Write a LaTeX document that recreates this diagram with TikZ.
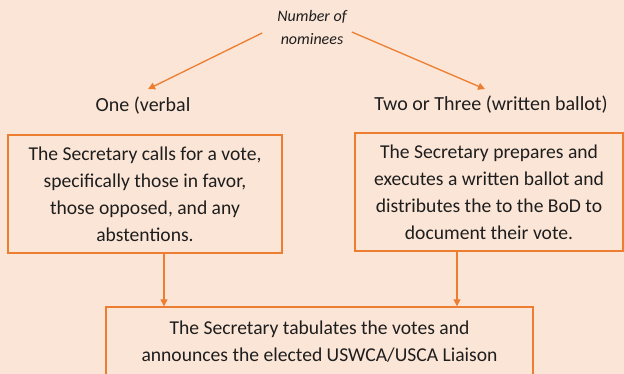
\documentclass[tikz,border=0pt]{standalone}
\usepackage{fontspec}
\setmainfont{Carlito}
\usepackage{xcolor}
\usepackage{tikz}
\usetikzlibrary{arrows.meta, positioning, calc}
\definecolor{pagebg}{RGB}{251, 229, 214}
\definecolor{accent}{RGB}{237, 125, 49}
\definecolor{inktext}{RGB}{30, 30, 30}
\tikzset{
  font=\fontsize{19.6}{27}\selectfont,
  stepblock/.style={
    rectangle, draw=accent, line width=1.4pt,
    align=center, text=inktext, inner sep=0pt
  },
  choicelabel/.style={text=inktext, inner sep=0pt, font=\fontsize{20}{27}\selectfont},
  flowline/.style={
    draw=accent, -{Triangle[length=7pt, width=7pt]}, line width=1.3pt
  }
}

\begin{document}
\begin{tikzpicture}[x=1pt, y=1pt]
  \fill[pagebg] (0,0) rectangle (624,374);
  \clip (0,0) rectangle (624,374);

  % Question
  \node[choicelabel, align=center, font=\itshape\fontsize{16}{23}\selectfont] (count) at (312,346) {Number of\\nominees};

  % Answers
  \node[choicelabel] (one) at (143,268) {One (verbal};
  \node[choicelabel] (several) at (491,269) {Two or Three (written ballot)};

  % Verbal vote
  \node[stepblock, minimum width=274pt, minimum height=118pt] (verbal) at (145,180) {
    The Secretary calls for a vote,\\
    specifically those in favor,\\
    those opposed, and any\\
    abstentions.
  };

  % Written ballot
  \node[stepblock, minimum width=268pt, minimum height=118pt] (ballot) at (489,182) {
    The Secretary prepares and\\
    executes a written ballot and\\
    distributes the to the BoD to\\
    document their vote.
  };

  % Result
  \node[stepblock, minimum width=427pt, minimum height=70pt] (tally) at (319.5,32) {
    The Secretary tabulates the votes and\\
    announces the elected USWCA/USCA Liaison
  };

  \draw[flowline] ([shift={(-15pt,-5pt)}]count.west) -- ([shift={(5pt,8pt)}]one.north);
  \draw[flowline] ([shift={(5pt,-4pt)}]count.east) -- ([shift={(-6pt,7pt)}]several.north);
  \draw[flowline] ([xshift=19pt]verbal.south) -- ([xshift=19pt]verbal.south |- tally.north);
  \draw[flowline] ([xshift=-32pt]ballot.south) -- ([xshift=-32pt]ballot.south |- tally.north);
\end{tikzpicture}
\end{document}
